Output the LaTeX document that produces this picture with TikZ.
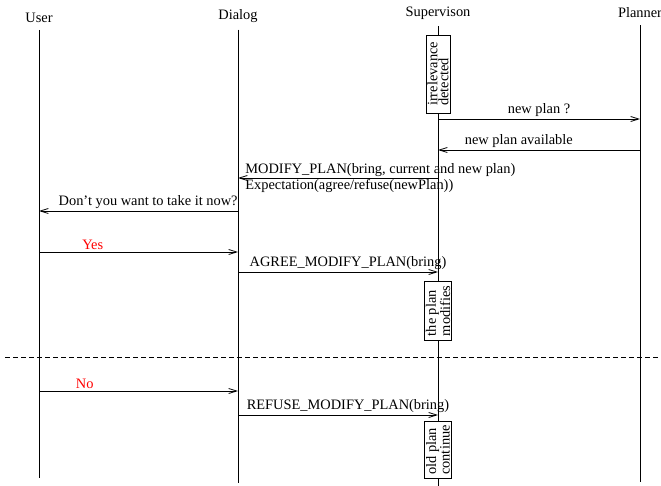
\documentclass[tikz,border=0pt]{standalone}
\usepackage{fontspec}
\setmainfont{Liberation Serif}
\usepackage{xcolor}
\usetikzlibrary{arrows.meta, positioning}

\begin{document}
\begin{tikzpicture}[x=1pt, y=-1pt,
  actor/.style={font=\fontsize{14.4}{16}\selectfont, inner sep=2pt},
  life/.style={line width=0.8pt, shorten <=5pt},
  msg/.style={-{Straight Barb[length=8pt,width=5pt]}, line width=0.8pt},
  lbl/.style={font=\fontsize{14.4}{16}\selectfont, inner sep=2pt},
  note/.style={draw, fill=white, rotate=90, align=left, line width=0.8pt,
               inner sep=1.5pt, minimum height=24pt,
               font=\fontsize{14.4}{11}\selectfont}
]
  \useasboundingbox (0,0) rectangle (661,486);

  % lifelines
  \node[actor] (user) at (39,18) {User};
  \node[actor] (dialog) at (238,16) {Dialog};
  \node[actor] (sup) at (438,13) {Supervison};
  \node[actor] (plan) at (640,13) {Planner};

  \coordinate (userend) at (39,478);
  \coordinate (dialogend) at (238,483);
  \coordinate (supend) at (438,486);
  \coordinate (planend) at (640,482);

  \draw[life] (user) -- (userend);
  \draw[life] (dialog) -- (dialogend);
  \draw[life] (sup) -- (supend);
  \draw[life] (plan) -- (planend);

  % states of the supervisor
  \node[note, minimum width=78pt] (irr) at (438,74) {irrelevance\\detected};
  \node[note, minimum width=59pt] (modif) at (438,311) {the plan\\modifies};
  \node[note, minimum width=57pt] (cont) at (438,450) {old plan\\continue};

  % message heights
  \coordinate (m1) at (0,119);
  \coordinate (m2) at (0,150);
  \coordinate (m3) at (0,178);
  \coordinate (m4) at (0,211);
  \coordinate (m5) at (0,252);
  \coordinate (m6) at (0,272);
  \coordinate (m7) at (0,391);
  \coordinate (m8) at (0,415);

  \draw[msg] (sup |- m1) -- node[lbl, above] {new plan ?} (plan |- m1);
  \draw[msg] (plan |- m2) -- node[lbl, above, pos=0.6] {new plan available} (sup |- m2);
  \draw[msg] (sup |- m3) --
    node[lbl, pos=1, anchor=west, align=left, xshift=5pt] (modtxt)
      {MODIFY\_PLAN(bring, current and new plan)\\Expectation(agree/refuse(newPlan))}
    (dialog |- m3);
  \draw[msg] (dialog |- m4) --
    node[lbl, pos=0, anchor=south east, inner xsep=0pt] {Don't you want to take it now?}
    (user |- m4);

  % first case
  \draw[msg] (user |- m5) -- node[lbl, above, pos=0.27, text=red] {Yes} (dialog |- m5);
  \draw[msg] (dialog |- m6) -- node[lbl, above, pos=0.55] {AGREE\_MODIFY\_PLAN(bring)} (sup |- m6);

  % separator
  \coordinate (sepl) at (5,357);
  \coordinate (sepr) at (661,357);
  \draw[dash pattern=on 5pt off 3pt, line width=0.8pt] (sepl) -- (sepr);

  % second case
  \draw[msg] (user |- m7) -- node[lbl, above, pos=0.23, text=red] {No} (dialog |- m7);
  \draw[msg] (dialog |- m8) -- node[lbl, above, pos=0.55] {REFUSE\_MODIFY\_PLAN(bring)} (sup |- m8);
\end{tikzpicture}
\end{document}
